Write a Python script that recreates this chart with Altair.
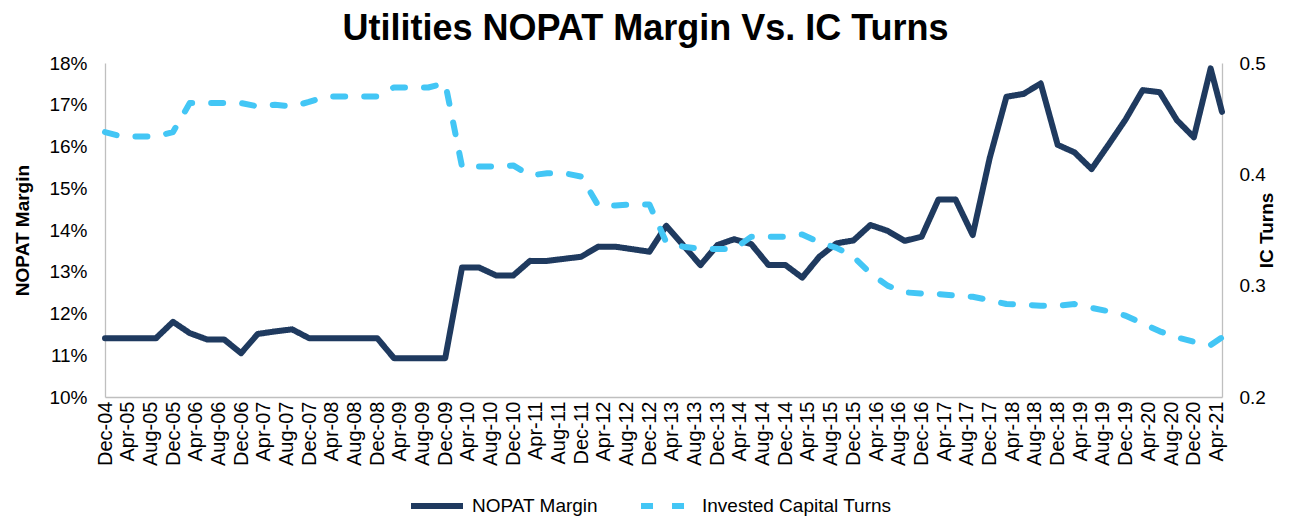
import altair as alt
import pandas as pd

# Quarterly observation dates (plus latest point)
dates = ["2004-12"]
for yr in range(2005, 2021):
    for mo in ("03", "06", "09", "12"):
        dates.append(f"{yr}-{mo}")
dates += ["2021-03", "2021-05"]

nopat_margin = [
    11.41, 11.41, 11.41, 11.41, 11.80, 11.53, 11.38, 11.38, 11.05, 11.51,
    11.57, 11.62, 11.41, 11.41, 11.41, 11.41, 11.41, 10.93, 10.93, 10.93,
    10.93, 13.10, 13.10, 12.91, 12.91, 13.26, 13.26, 13.31, 13.36, 13.60,
    13.60, 13.54, 13.48, 14.10, 13.63, 13.16, 13.64, 13.78, 13.66, 13.16,
    13.16, 12.86, 13.36, 13.68, 13.75, 14.12, 13.98, 13.74, 13.84, 14.73,
    14.73, 13.88, 15.72, 17.19, 17.26, 17.51, 16.04, 15.86, 15.46, 16.05,
    16.65, 17.35, 17.30, 16.63, 16.22, 17.87, 16.83,
]

ic_turns = [
    0.438, 0.434, 0.434, 0.434, 0.438, 0.464, 0.464, 0.464, 0.464, 0.461,
    0.4625, 0.461, 0.465, 0.470, 0.470, 0.470, 0.470, 0.478, 0.478, 0.478,
    0.482, 0.407, 0.407, 0.407, 0.408, 0.399, 0.401, 0.401, 0.398, 0.372,
    0.372, 0.373, 0.373, 0.339, 0.335, 0.333, 0.333, 0.333, 0.344, 0.344,
    0.344, 0.346, 0.339, 0.334, 0.326, 0.311, 0.300, 0.294, 0.293, 0.2925,
    0.291, 0.290, 0.287, 0.2835, 0.283, 0.282, 0.282, 0.2835, 0.280, 0.277,
    0.273, 0.266, 0.259, 0.2535, 0.2496, 0.2466, 0.2535,
]

series_names = ["NOPAT Margin", "Invested Capital Turns"]
series_colors = ["#1F3A5F", "#43C6F5"]
left_ticks = [10, 11, 12, 13, 14, 15, 16, 17, 18]
right_ticks = [0.2, 0.3, 0.4, 0.5]

# x-axis tick dates: every 4 months from Dec-04 to Apr-21
tick_dates = []
y, m = 2004, 12
while (y, m) <= (2021, 4):
    tick_dates.append(alt.DateTime(year=y, month=m, date=1))
    m += 4
    if m > 12:
        m -= 12
        y += 1

iso = [d + "-01T00:00:00" for d in dates]
df = pd.concat([
    pd.DataFrame({"date": iso, "value": nopat_margin, "series": series_names[0]}),
    pd.DataFrame({"date": iso, "value": ic_turns, "series": series_names[1]}),
])

FONT = "Liberation Sans"

legend = alt.Legend(
    orient="none", legendX=303, legendY=414, direction="horizontal", title=None,
    symbolType="stroke", symbolSize=2700, symbolStrokeWidth=6,
    labelFontSize=19, labelFont=FONT, labelColor="#000000", labelLimit=400,
    columnPadding=31, labelOffset=6,
)

color = alt.Color("series:N", scale=alt.Scale(domain=series_names, range=series_colors), legend=legend)
dash = alt.StrokeDash("series:N", scale=alt.Scale(domain=series_names, range=[[1, 0], [12, 19]]), legend=legend)

x = alt.X(
    "date:T",
    title=None,
    scale=alt.Scale(domain=[alt.DateTime(year=2004, month=12, date=1), alt.DateTime(year=2021, month=5, date=1)]),
    axis=alt.Axis(values=tick_dates, format="%b-%y", labelAngle=270, labelFontSize=20,
                  labelPadding=4, labelOverlap=False, labelBound=False, labelFlush=False),
)

base = alt.Chart(df)

nopat = base.transform_filter(alt.datum.series == series_names[0]).mark_line(
    strokeWidth=6, strokeJoin="round", strokeCap="round"
).encode(
    x=x,
    y=alt.Y("value:Q", title="NOPAT Margin",
            scale=alt.Scale(domain=[10, 18], nice=False, zero=False),
            axis=alt.Axis(values=left_ticks, labelExpr="datum.value + '%'", labelFontSize=19,
                          labelPadding=18, titleFontSize=19, titleFontWeight="bold",
                          titlePadding=16, orient="left")),
    color=color,
    strokeDash=dash,
)

ic = base.transform_filter(alt.datum.series == series_names[1]).mark_line(
    strokeWidth=6, strokeJoin="round", strokeCap="round"
).encode(
    x=x,
    y=alt.Y("value:Q", title="IC Turns",
            scale=alt.Scale(domain=[0.2, 0.5], nice=False, zero=False),
            axis=alt.Axis(values=right_ticks, format=".1f", labelFontSize=19,
                          labelPadding=17, titleFontSize=19, titleFontWeight="bold",
                          titlePadding=11, titleAngle=270, orient="right")),
    color=color,
    strokeDash=dash,
)

chart = alt.layer(nopat, ic).resolve_scale(y="independent").properties(
    width=1117,
    height=334,
    padding={"left": 97, "right": 72, "top": 55, "bottom": 120},
    autosize=alt.AutoSizeParams(type="none"),
    title=alt.TitleParams("Utilities NOPAT Margin Vs. IC Turns", fontSize=36, font=FONT,
                          fontWeight="bold", anchor="middle", frame="group", dx=-18,
                          offset=6, color="#000000"),
).configure(font=FONT).configure_axis(
    grid=False, ticks=False, tickSize=0, domainColor="#BFBFBF", domainWidth=1.3,
    labelColor="#000000", titleColor="#000000", labelFont=FONT, titleFont=FONT,
).configure_view(stroke=None)

chart.save("out.html", embed_options={"renderer": "svg", "actions": False})
